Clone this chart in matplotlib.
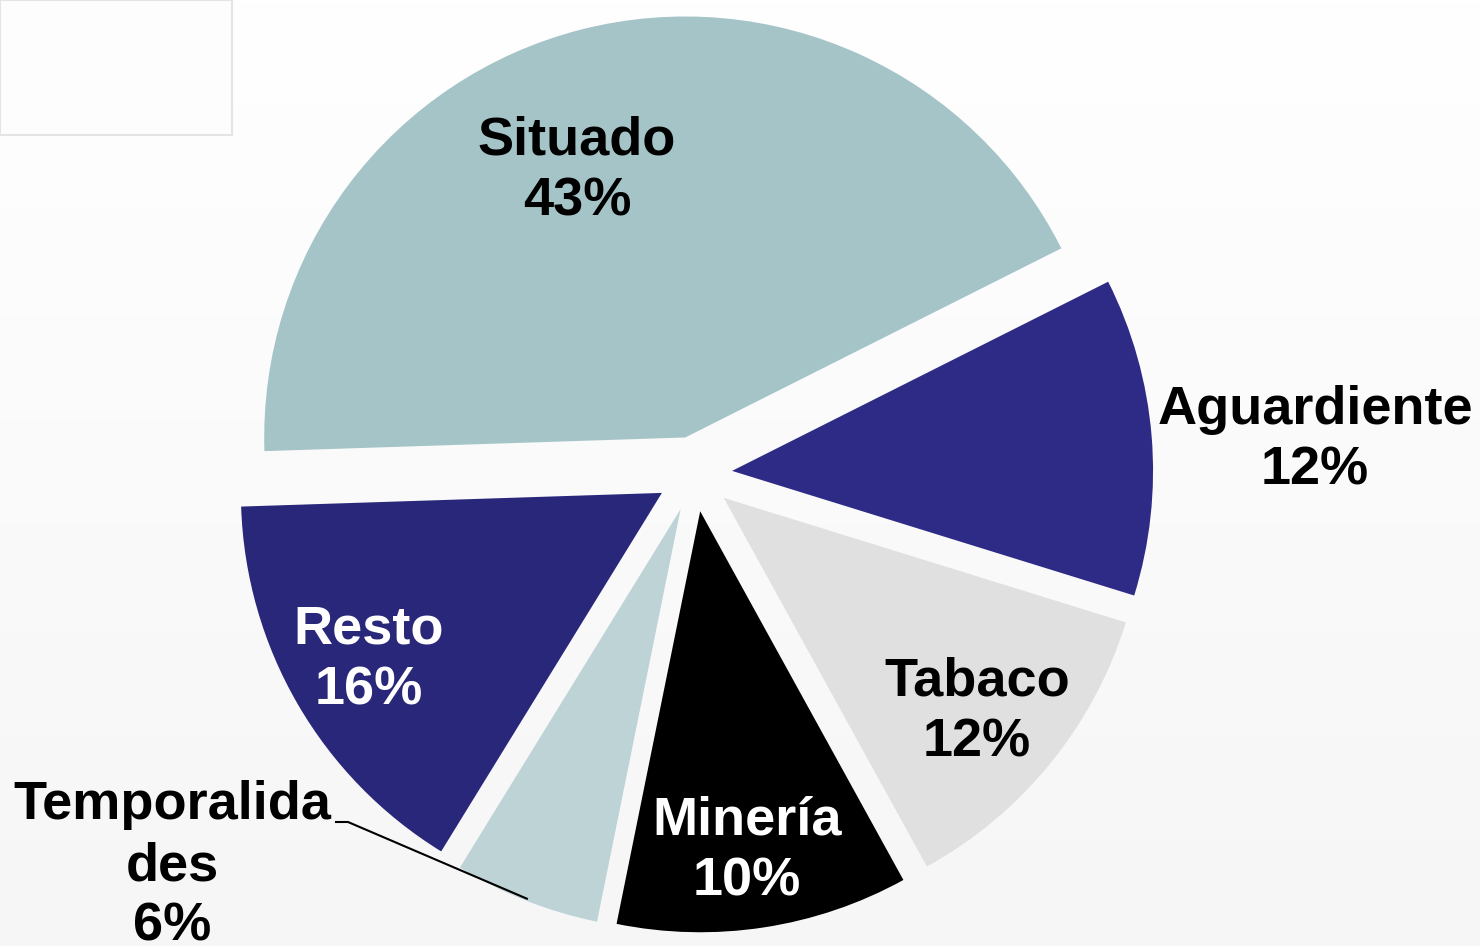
import numpy as np
import matplotlib.pyplot as plt
from matplotlib.patches import Rectangle
from matplotlib.colors import LinearSegmentedColormap

categorias = ["Situado", "Resto", "Temporalida\ndes", "Minería", "Tabaco", "Aguardiente"]
valores = [43.1, 15.7, 5.6, 11.2, 12.2, 12.2]
# porcentajes que aparecen escritos en la imagen
porcentajes = [43, 16, 6, 10, 12, 12]
colores = ["#a5c4c7", "#29277a", "#bed3d6", "#000000", "#e0e0e0", "#2e2b87"]
color_texto = ["black", "white", "black", "white", "black", "black"]
# centro de cada etiqueta en pixeles (x, y desde arriba)
pos_etiquetas = [(577, 171), (369, 660), (172, 866), (747, 851), (977, 712), (1315, 440)]

W, H = 1480, 946
cx, cy, R = 694.5, 474, 421   # centro y radio del pie en pixeles

def px2data(x, y):
    return (x - cx) / R, (cy - y) / R

fig = plt.figure(figsize=(W / 100, H / 100), dpi=100)

# fondo con un degradado muy suave
bg = fig.add_axes([0, 0, 1, 1])
cmap = LinearSegmentedColormap.from_list("bg", ["#ffffff", "#f6f6f6"])
bg.imshow(np.linspace(0, 1, 256).reshape(-1, 1), cmap=cmap, aspect="auto", extent=[0, 1, 0, 1])
bg.add_patch(Rectangle((0, 1 - 135 / H), 232 / W, 135 / H, facecolor="#fdfdfd",
                       edgecolor="#e4e4e4", linewidth=1.5))
bg.set_xlim(0, 1)
bg.set_ylim(0, 1)
bg.axis("off")

ax = fig.add_axes([0, 0, 1, 1])
ax.set_facecolor("none")
wedges, _ = ax.pie(valores, colors=colores, startangle=26.7, counterclock=True,
                   explode=[0.0895] * len(valores), radius=1,
                   wedgeprops=dict(linewidth=0))
ax.set_xlim(-cx / R, (W - cx) / R)
ax.set_ylim(-(H - cy) / R, cy / R)
ax.set_aspect("auto")
ax.axis("off")

for cat, p, col, (x, y) in zip(categorias, porcentajes, color_texto, pos_etiquetas):
    tx, ty = px2data(x, y)
    ax.text(tx, ty, f"{cat}\n{p}%", ha="center", va="center", fontsize=39,
            fontweight="bold", color=col, linespacing=1.27, family="Liberation Sans")

# linea guia de Temporalidades
w = wedges[2]
mid = np.deg2rad((w.theta1 + w.theta2) / 2)
ex = w.center[0] + 0.995 * w.r * np.cos(mid)
ey = w.center[1] + 0.995 * w.r * np.sin(mid)
k1 = px2data(336, 822)
k2 = px2data(348, 822)
ax.plot([k1[0], k2[0], ex], [k1[1], k2[1], ey], color="black", linewidth=1.5)

fig.savefig("out.png", dpi=100)
